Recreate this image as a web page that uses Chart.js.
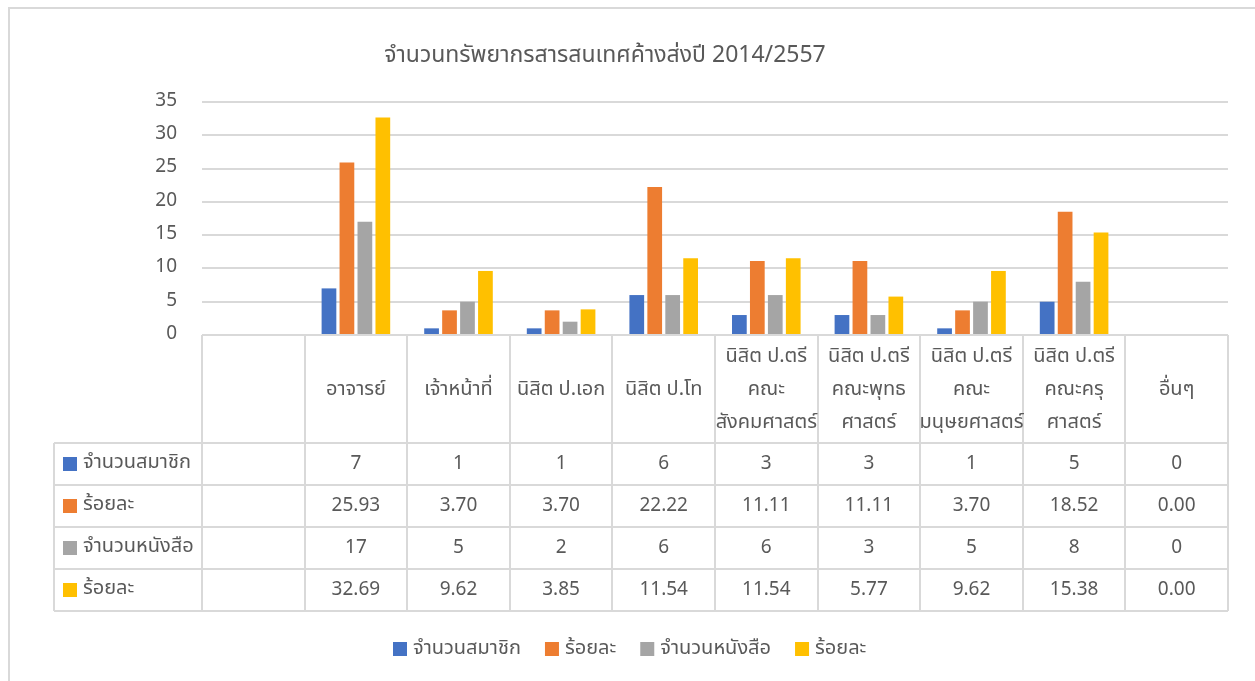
<!DOCTYPE html>
<html>
<head>
<meta charset="utf-8">
<script src="https://cdn.jsdelivr.net/npm/chart.js@4/dist/chart.umd.min.js"></script>
<style>
  html, body { margin: 0; padding: 0; background: #fff; }
  #wrap { width: 1255px; height: 681px; position: relative; }
</style>
</head>
<body>
<div id="wrap"><canvas id="chart" width="1255" height="681"></canvas></div>
<script>
// chart data
var chartTitle = 'จำนวนทรัพยากรสารสนเทศค้างส่งปี 2014/2557';
var categories = ['', 'อาจารย์', 'เจ้าหน้าที่', 'นิสิต ป.เอก', 'นิสิต ป.โท',
	'นิสิต ป.ตรี คณะสังคมศาสตร์', 'นิสิต ป.ตรี คณะพุทธศาสตร์', 'นิสิต ป.ตรี คณะมนุษยศาสตร์',
	'นิสิต ป.ตรี คณะครุศาสตร์', 'อื่นๆ'];
// how the category names wrap inside the table header
var headerLines = [[], ['อาจารย์'], ['เจ้าหน้าที่'], ['นิสิต ป.เอก'], ['นิสิต ป.โท'],
	['นิสิต ป.ตรี', 'คณะ', 'สังคมศาสตร์'], ['นิสิต ป.ตรี', 'คณะพุทธ', 'ศาสตร์'],
	['นิสิต ป.ตรี', 'คณะ', 'มนุษยศาสตร์'], ['นิสิต ป.ตรี', 'คณะครุ', 'ศาสตร์'], ['อื่นๆ']];
var seriesNames = ['จำนวนสมาชิก', 'ร้อยละ', 'จำนวนหนังสือ', 'ร้อยละ'];
var members     = [null, 7, 1, 1, 6, 3, 3, 1, 5, 0];
var memberPct   = [null, 25.93, 3.70, 3.70, 22.22, 11.11, 11.11, 3.70, 18.52, 0.00];
var books       = [null, 17, 5, 2, 6, 6, 3, 5, 8, 0];
var bookPct     = [null, 32.69, 9.62, 3.85, 11.54, 11.54, 5.77, 9.62, 15.38, 0.00];
var decimals    = [0, 2, 0, 2];
var yTicks      = [0, 5, 10, 15, 20, 25, 30, 35];

var colors = ['#4472c4', '#ed7d31', '#a5a5a5', '#ffc000'];
var textColor = '#595959';
var lineColor = '#d9d9d9';
var fontFam = '"Noto Sans Thai", "Leelawadee UI", Tahoma, "Noto Sans", sans-serif';

var seriesData = [members, memberPct, books, bookPct];

var tablePlugin = {
	id: 'dataTable',
	afterDraw: function(chart) {
		var ctx = chart.ctx;
		var x = chart.scales.x;
		var area = chart.chartArea;
		var half = (x.getPixelForValue(1) - x.getPixelForValue(0)) / 2;
		var top = area.bottom;
		var rowTop = 443, rowH = 42, rows = 4;
		var tableLeft = 54;
		var bottom = rowTop + rowH * rows;

		ctx.save();
		// outer frame of the chart object
		ctx.strokeStyle = lineColor;
		ctx.lineWidth = 2;
		ctx.beginPath();
		ctx.moveTo(9, 690); ctx.lineTo(9, 8); ctx.lineTo(1260, 8);
		ctx.stroke();

		// title
		ctx.fillStyle = textColor;
		ctx.font = '23px ' + fontFam;
		ctx.textAlign = 'center';
		ctx.textBaseline = 'middle';
		ctx.fillText(chartTitle, 605, 57);

		// table grid
		ctx.lineWidth = 2;
		ctx.strokeStyle = lineColor;
		ctx.beginPath();
		for (var i = 0; i <= categories.length; i++) {
			var bx = Math.round(x.getPixelForValue(i) - half);
			ctx.moveTo(bx, top); ctx.lineTo(bx, bottom);
		}
		ctx.moveTo(tableLeft, rowTop); ctx.lineTo(tableLeft, bottom);
		ctx.moveTo(area.left, top); ctx.lineTo(area.right, top);
		for (var r = 0; r <= rows; r++) {
			ctx.moveTo(tableLeft, rowTop + r * rowH); ctx.lineTo(area.right, rowTop + r * rowH);
		}
		ctx.stroke();

		// header labels
		ctx.font = '20px ' + fontFam;
		ctx.fillStyle = textColor;
		for (var c = 0; c < categories.length; c++) {
			var cx = x.getPixelForValue(c);
			var lines = headerLines[c];
			var mid = (top + rowTop) / 2 + 2;
			for (var l = 0; l < lines.length; l++) {
				ctx.fillText(lines[l], cx, mid + (l - (lines.length - 1) / 2) * 33);
			}
		}

		// rows
		for (var s = 0; s < seriesData.length; s++) {
			var cy = rowTop + rowH * s + rowH / 2;
			ctx.fillStyle = colors[s];
			ctx.fillRect(63, cy - 7, 14, 14);
			ctx.fillStyle = textColor;
			ctx.font = '20px ' + fontFam;
			ctx.textAlign = 'left';
			ctx.fillText(seriesNames[s], 83, cy);
			ctx.textAlign = 'center';
			ctx.font = '19px ' + fontFam;
			for (var c2 = 1; c2 < categories.length; c2++) {
				var v = seriesData[s][c2];
				ctx.fillText(v.toFixed(decimals[s]), x.getPixelForValue(c2), cy + 1);
			}
		}

		// legend
		var lx = 393, ly = 649;
		ctx.textAlign = 'left';
		ctx.font = '20px ' + fontFam;
		for (var k = 0; k < seriesNames.length; k++) {
			ctx.fillStyle = colors[k];
			ctx.fillRect(lx, ly - 7, 14, 14);
			ctx.fillStyle = textColor;
			ctx.fillText(seriesNames[k], lx + 20, ly + 1);
			lx += 20 + ctx.measureText(seriesNames[k]).width + 24;
		}
		ctx.restore();
	}
};

var ctx = document.getElementById('chart').getContext('2d');
var datasets = [];
for (var i = 0; i < seriesData.length; i++) {
	datasets.push({
		label: seriesNames[i],
		data: seriesData[i],
		backgroundColor: colors[i],
		borderWidth: 0,
		categoryPercentage: 0.7,
		barPercentage: 0.82
	});
}

var chart = new Chart(ctx, {
	type: 'bar',
	data: { labels: categories, datasets: datasets },
	options: {
		responsive: false,
		animation: false,
		layout: { padding: { top: 102, right: 27, left: 0, bottom: 0 } },
		plugins: { legend: { display: false }, title: { display: false }, tooltip: { enabled: false } },
		scales: {
			x: {
				grid: { display: false },
				border: { display: false },
				ticks: { display: false },
				afterFit: function(s) { s.height = 346; }
			},
			y: {
				min: 0, max: 35,
				afterBuildTicks: function(s) { s.ticks = yTicks.map(function(v) { return { value: v }; }); },
				grid: { color: lineColor, lineWidth: 2, drawTicks: false },
				border: { display: false },
				ticks: { color: textColor, font: { size: 19, family: fontFam }, padding: 25 },
				afterFit: function(s) { s.width = 202; }
			}
		}
	},
	plugins: [tablePlugin]
});
</script>
</body>
</html>
